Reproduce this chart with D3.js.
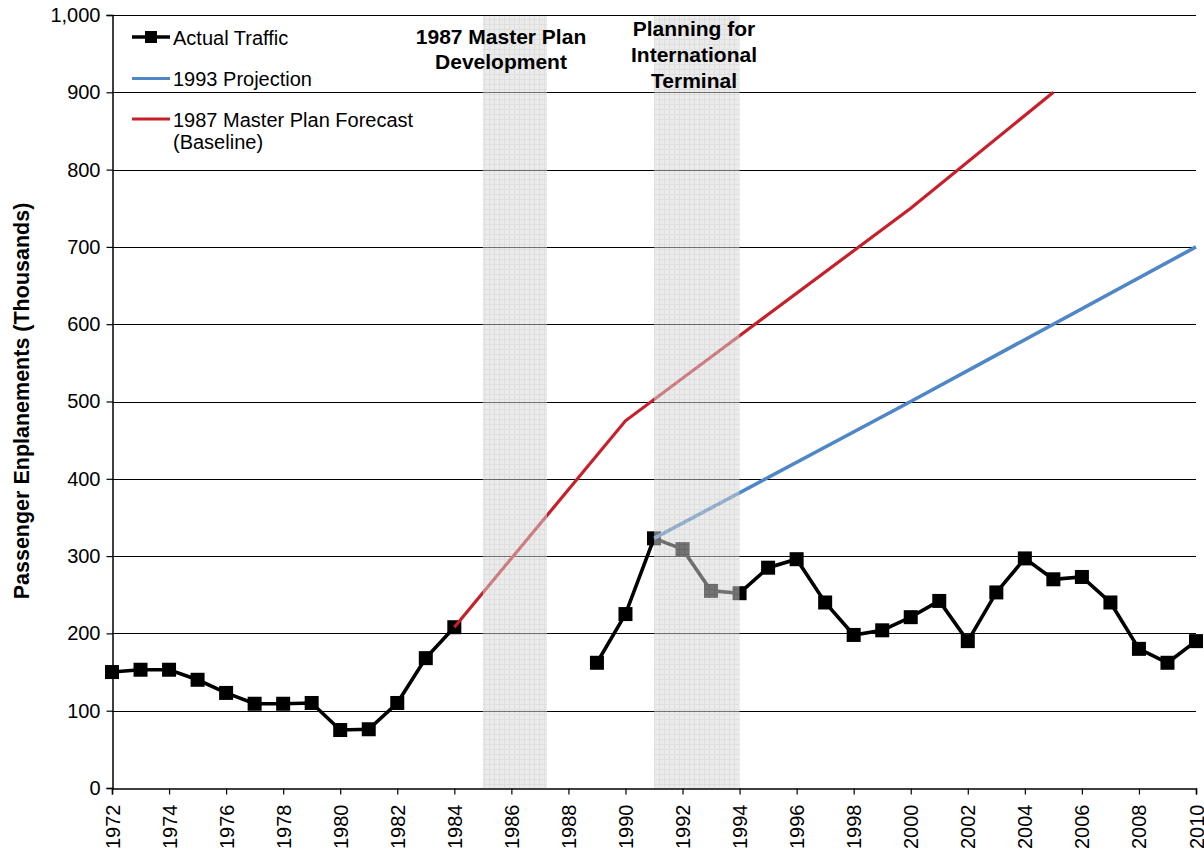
<!DOCTYPE html>
<html>
<head>
<meta charset="utf-8">
<script src="https://cdn.jsdelivr.net/npm/d3@7"></script>
<style>
  html, body { margin: 0; padding: 0; background: #fff; }
  svg { display: block; font-family: "Liberation Sans", Arial, Helvetica, sans-serif; }
</style>
</head>
<body>
<svg id="chart" width="1204" height="857"></svg>
<script>
// Passenger enplanements, in thousands
const actualYears1 = [1972, 1973, 1974, 1975, 1976, 1977, 1978, 1979, 1980, 1981, 1982, 1983, 1984];
const actualValues1 = [150, 153, 153, 140, 123, 109, 109, 110, 75, 76, 110, 168, 208];
const actualYears2 = [1989, 1990, 1991, 1992, 1993, 1994, 1995, 1996, 1997, 1998, 1999, 2000, 2001, 2002, 2003, 2004, 2005, 2006, 2007, 2008, 2009, 2010];
const actualValues2 = [162, 225, 323, 309, 255, 252, 285, 296, 240, 198, 204, 221, 242, 190, 253, 297, 270, 273, 240, 180, 162, 190];

const projYears = [1991, 2000, 2010];
const projValues = [323, 500, 700];

const forecastYears = [1984, 1990, 2000, 2005];
const forecastValues = [208, 475, 750, 900];

const periodStarts = [1985, 1991];
const periodEnds = [1987.25, 1994];
const periodLabels = [["1987 Master Plan", "Development"], ["Planning for", "International", "Terminal"]];

const yTicks = [0, 100, 200, 300, 400, 500, 600, 700, 800, 900, 1000];
const xTicks = d3.range(1972, 2011, 2);

const legendLabels = [["Actual Traffic"], ["1993 Projection"], ["1987 Master Plan Forecast", "(Baseline)"]];
const colors = { actual: "#000000", proj: "#4f86c6", forecast: "#c8202a" };

const svg = d3.select("#chart");
const plotLeft = 112, plotRight = 1196, plotTop = 15, plotBottom = 788;

const x = d3.scaleLinear().domain([1972, 2010]).range([plotLeft, plotRight]);
const y = d3.scaleLinear().domain([0, 1000]).range([plotBottom, plotTop]);

// Fine grid pattern used by the shaded planning periods
const defs = svg.append("defs");
const cell = 5;
const pat = defs.append("pattern")
  .attr("id", "gridFill").attr("patternUnits", "userSpaceOnUse")
  .attr("width", cell).attr("height", cell);
pat.append("rect").attr("width", cell).attr("height", cell).attr("fill", "#d9d9d9");
pat.append("path").attr("d", `M${cell - 0.5},0V${cell}M0,${cell - 0.5}H${cell}`)
  .attr("stroke", "#c2c2c2").attr("stroke-width", 1);

// Horizontal gridlines
svg.append("g").selectAll("line").data(yTicks.filter(d => d > 0)).join("line")
  .attr("x1", plotLeft).attr("x2", plotRight)
  .attr("y1", d => Math.round(y(d)) + 0.5).attr("y2", d => Math.round(y(d)) + 0.5)
  .attr("stroke", "#000").attr("stroke-width", 1.2);

// Y axis
const yAxis = svg.append("g").attr("transform", `translate(${plotLeft + 0.5},0)`)
  .call(d3.axisLeft(y).tickValues(yTicks).tickSize(6).tickPadding(6).tickFormat(d3.format(",")));
yAxis.select(".domain").attr("stroke", "#000").attr("stroke-width", 1.5);
yAxis.selectAll(".tick line").attr("stroke", "#000").attr("stroke-width", 1.2);
yAxis.selectAll(".tick text").attr("font-size", 20).attr("fill", "#000")
  .attr("font-family", "Liberation Sans, Arial, sans-serif");

// X axis
const xAxis = svg.append("g").attr("transform", `translate(0,${plotBottom + 0.5})`)
  .call(d3.axisBottom(x).tickValues(xTicks).tickSize(6).tickFormat(d3.format("d")));
xAxis.select(".domain").attr("stroke", "#000").attr("stroke-width", 1.5);
xAxis.selectAll(".tick line").attr("stroke", "#000").attr("stroke-width", 1.2);
xAxis.selectAll(".tick text")
  .attr("font-size", 20).attr("fill", "#000")
  .attr("font-family", "Liberation Sans, Arial, sans-serif")
  .attr("transform", "rotate(-90)")
  .attr("text-anchor", "end")
  .attr("x", -16).attr("y", 0).attr("dy", "0.35em");

// Y axis title
svg.append("text")
  .attr("transform", `translate(29,401) rotate(-90)`)
  .attr("text-anchor", "middle")
  .attr("font-size", 21.5).attr("font-weight", "bold")
  .text("Passenger Enplanements (Thousands)");

// Actual traffic
const line = d3.line().x(d => x(d[0])).y(d => y(d[1]));
const seg1 = actualYears1.map((yr, i) => [yr, actualValues1[i]]);
const seg2 = actualYears2.map((yr, i) => [yr, actualValues2[i]]);
[seg1, seg2].forEach(seg => {
  svg.append("path").datum(seg).attr("d", line)
    .attr("fill", "none").attr("stroke", colors.actual).attr("stroke-width", 3.6)
    .attr("stroke-linejoin", "miter");
});
svg.append("g").selectAll("rect").data(seg1.concat(seg2)).join("rect")
  .attr("x", d => x(d[0]) - 7).attr("y", d => y(d[1]) - 7)
  .attr("width", 14).attr("height", 14).attr("fill", colors.actual);

// Forecast and projection
const forecast = forecastYears.map((yr, i) => [yr, forecastValues[i]]);
svg.append("path").datum(forecast).attr("d", line)
  .attr("fill", "none").attr("stroke", colors.forecast).attr("stroke-width", 3.2);
const proj = projYears.map((yr, i) => [yr, projValues[i]]);
svg.append("path").datum(proj).attr("d", line)
  .attr("fill", "none").attr("stroke", colors.proj).attr("stroke-width", 3.6);

// Shaded planning periods
svg.append("g").selectAll("rect").data(periodStarts).join("rect")
  .attr("x", d => x(d)).attr("y", plotTop)
  .attr("width", (d, i) => x(periodEnds[i]) - x(d))
  .attr("height", plotBottom - plotTop)
  .attr("fill", "url(#gridFill)").attr("opacity", 0.53);

// Period labels
const labelCx = [501, 694];
const labelY0 = [44, 36];
const labelStep = [24.5, 26];
periodLabels.forEach((lines, i) => {
  const t = svg.append("text").attr("text-anchor", "middle")
    .attr("font-size", 21).attr("font-weight", "bold");
  lines.forEach((l, j) => {
    t.append("tspan").attr("x", labelCx[i]).attr("y", labelY0[i] + j * labelStep[i]).text(l);
  });
});

// Top border line
svg.append("line").attr("x1", plotLeft).attr("x2", plotRight)
  .attr("y1", Math.round(y(1000)) + 0.5).attr("y2", Math.round(y(1000)) + 0.5)
  .attr("stroke", "#000").attr("stroke-width", 1.2);

// Legend
const legendY = [37, 78.5, 119];
const legendColors = [colors.actual, colors.proj, colors.forecast];
const lg = svg.append("g");
legendLabels.forEach((lines, i) => {
  lg.append("line").attr("x1", 132).attr("x2", 170)
    .attr("y1", legendY[i]).attr("y2", legendY[i])
    .attr("stroke", legendColors[i]).attr("stroke-width", i === 0 ? 3.4 : 3.2);
  if (i === 0) {
    lg.append("rect").attr("x", 145).attr("y", legendY[i] - 6)
      .attr("width", 12).attr("height", 12).attr("fill", colors.actual);
  }
  const t = lg.append("text").attr("font-size", 20).attr("fill", "#000");
  lines.forEach((l, j) => {
    t.append("tspan").attr("x", 173).attr("y", legendY[i] + 7.5 + j * 22.5).text(l);
  });
});
</script>
</body>
</html>
